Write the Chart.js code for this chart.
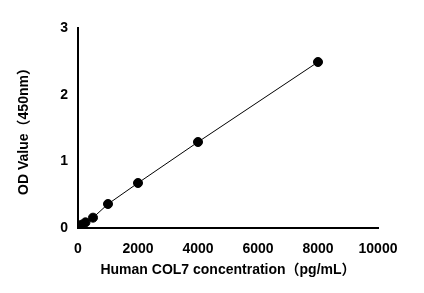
<!DOCTYPE html>
<html><head><meta charset="utf-8">
<script src="https://cdn.jsdelivr.net/npm/chart.js@4"></script>
<style>html,body{margin:0;padding:0;background:#fff}#w{width:424px;height:293px}</style>
</head><body><div id="w"><canvas id="c"></canvas></div>
<script>
const concentrations = [0, 62.5, 125, 250, 500, 1000, 2000, 4000, 8000];
const odValues = [0.005, 0.03, 0.05, 0.085, 0.155, 0.36, 0.675, 1.29, 2.49];
const xTicks = [0, 2000, 4000, 6000, 8000, 10000];
const yTicks = [0, 1, 2, 3];
const xTitle = 'Human COL7 concentration（pg/mL）';
const yTitle = 'OD Value（450nm）';

const pts = concentrations.map((x, i) => ({x, y: odValues[i]}));
const fontFam = 'Arial, "Liberation Sans", "Noto Sans CJK SC", sans-serif';
new Chart(document.getElementById('c'), {
  type: 'scatter',
  data: { datasets: [{
    data: pts, showLine: true, borderColor: '#000', borderWidth: 1,
    pointRadius: 4.5, pointBackgroundColor: '#000', pointBorderColor: '#000', tension: 0
  }]},
  options: {
    responsive: true, maintainAspectRatio: false, animation: false,
    layout: { padding: { left: 0, top: 28, right: 46, bottom: 0 } },
    plugins: { legend: { display: false }, tooltip: { enabled: false } },
    scales: {
      x: {
        type: 'linear', min: 0, max: 10000,
        afterBuildTicks: s => { s.ticks = xTicks.map(v => ({value: v})); },
        afterFit: s => { s.height = 65; },
        grid: { display: false, drawTicks: true, tickLength: 5, tickWidth: 2, tickColor: '#000' },
        border: { display: true, color: '#000', width: 2 },
        ticks: { color: '#000', font: { family: fontFam, size: 14, weight: 'bold' }, padding: 8, maxRotation: 0,
          callback: v => String(v) },
        title: { display: true, text: xTitle, color: '#000', font: { family: fontFam, size: 14, weight: 'bold' }, padding: { top: 0, bottom: 14 } }
      },
      y: {
        type: 'linear', min: 0, max: 3,
        afterBuildTicks: s => { s.ticks = yTicks.map(v => ({value: v})); },
        afterFit: s => { s.width = 78; },
        grid: { display: false, drawTicks: true, tickLength: 5, tickWidth: 2, tickColor: '#000' },
        border: { display: true, color: '#000', width: 2 },
        ticks: { color: '#000', font: { family: fontFam, size: 14, weight: 'bold' }, padding: 5, callback: v => String(v) },
        title: { display: true, text: yTitle, color: '#000', font: { family: fontFam, size: 14, weight: 'bold' }, padding: { top: 16, bottom: 0 } }
      }
    }
  }
});
</script></body></html>
